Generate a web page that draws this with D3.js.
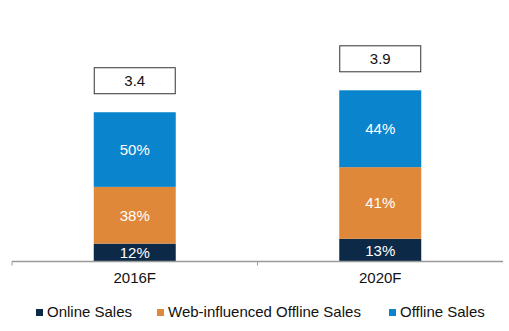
<!DOCTYPE html>
<html><head><meta charset="utf-8">
<script src="https://cdn.jsdelivr.net/npm/d3@7/dist/d3.min.js"></script>
<style>body{margin:0;background:#fff;}svg{display:block;font-family:"Liberation Sans",Arial,sans-serif;}</style>
</head><body>
<script>
const categories = ["2016F", "2020F"];
const totals = [3.4, 3.9];
const seriesNames = ["Online Sales", "Web-influenced Offline Sales", "Offline Sales"];
const onlinePct = [12, 13];
const webInfluencedPct = [38, 41];
const offlinePct = [50, 44];
const colors = ["#0c2a48", "#e0883a", "#0a84cc"];

const W = 509, H = 331;
const svg = d3.select("body").append("svg").attr("width", W).attr("height", H);

const x = d3.scaleBand().domain(categories).range([12, 503]).paddingInner(0.666).paddingOuter(0.333);
const y = d3.scaleLinear().domain([0, 5]).range([261.5, 261.5 - 5 * 43.9]);

const pctSeries = [onlinePct, webInfluencedPct, offlinePct];
const rows = categories.map((c, i) => {
  const sum = pctSeries.reduce((a, s) => a + s[i], 0);
  const r = { cat: c, total: totals[i] };
  seriesNames.forEach((n, k) => { r[n] = totals[i] * pctSeries[k][i] / sum; r["pct" + k] = pctSeries[k][i]; });
  return r;
});
const stack = d3.stack().keys(seriesNames)(rows);

const g = svg.append("g");
stack.forEach((layer, k) => {
  layer.forEach((d) => {
    const x0 = x(d.data.cat);
    g.append("rect").attr("x", x0).attr("width", x.bandwidth())
      .attr("y", y(d[1])).attr("height", y(d[0]) - y(d[1])).attr("fill", colors[k]);
    g.append("text").attr("x", x0 + x.bandwidth() / 2).attr("y", (y(d[0]) + y(d[1])) / 2)
      .attr("dy", "0.36em").attr("text-anchor", "middle").attr("fill", "#fff")
      .attr("font-size", 15).text(d.data["pct" + k] + "%");
  });
});

// total boxes
rows.forEach(r => {
  const top = y(r.total);
  svg.append("rect").attr("x", x(r.cat) + 0.5).attr("width", x.bandwidth() - 1)
    .attr("y", top - 44.5).attr("height", 26).attr("fill", "#fff").attr("stroke", "#333").attr("stroke-width", 1);
  svg.append("text").attr("x", x(r.cat) + x.bandwidth() / 2).attr("y", top - 31.5).attr("dy", "0.36em")
    .attr("text-anchor", "middle").attr("font-size", 15).attr("fill", "#111").text(r.total.toFixed(1));
});

// axis
const axis = svg.append("g").attr("transform", "translate(0,261.5)");
axis.append("line").attr("x1", 12).attr("x2", 503).attr("stroke", "#999").attr("stroke-width", 1.5);
[12, x.step() + 12].forEach(t => axis.append("line").attr("x1", t).attr("x2", t).attr("y1", 0).attr("y2", 4).attr("stroke", "#999").attr("stroke-width", 1));
categories.forEach(c => {
  svg.append("text").attr("x", x(c) + x.bandwidth() / 2).attr("y", 283).attr("text-anchor", "middle")
    .attr("font-size", 15).attr("fill", "#111").text(c);
});

// legend
const legX = [36, 157, 389];
seriesNames.forEach((n, k) => {
  svg.append("rect").attr("x", legX[k]).attr("y", 309).attr("width", 7).attr("height", 7).attr("fill", colors[k]);
  svg.append("text").attr("x", legX[k] + 11).attr("y", 317).attr("font-size", 15).attr("fill", "#111").text(n);
});
</script>
</body></html>
